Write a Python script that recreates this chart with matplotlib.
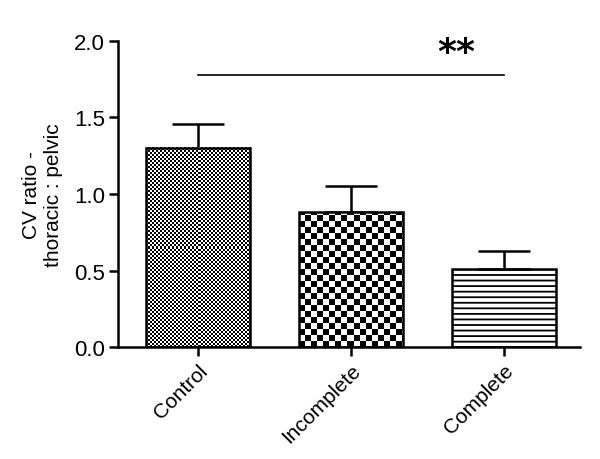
import numpy as np
import matplotlib
matplotlib.use("Agg")
import matplotlib.pyplot as plt

# data
groups = ["Control", "Incomplete", "Complete"]
means = [1.30, 0.88, 0.51]
sem_up = [0.16, 0.17, 0.12]
y_ticks = [0.0, 0.5, 1.0, 1.5, 2.0]
sig_label = "**"

plt.rcParams['font.family'] = ['Liberation Sans', 'DejaVu Sans']
plt.rcParams['hatch.linewidth'] = 1.3

fig = plt.figure(figsize=(6, 4.6), dpi=100)
ax = fig.add_axes([0.197, 0.243, 0.77, 0.666])

x = np.arange(len(groups))
bars = ax.bar(x, means, width=0.68, color="none", edgecolor="black",
              linewidth=1.8, zorder=3)
ax.errorbar(x, means, yerr=[np.zeros(len(means)), sem_up], fmt="none",
            ecolor="black", elinewidth=1.8, capsize=19, capthick=1.8, zorder=2)

ax.set_xlim(-0.52, 2.5)
ax.set_ylim(0, 2.0)
ax.set_yticks(y_ticks)
ax.set_yticklabels([f"{v:.1f}" for v in y_ticks], fontsize=16)
ax.set_xticks(x)
ax.set_xticklabels(groups, rotation=45, ha="right", rotation_mode="anchor", fontsize=15)
ax.set_ylabel("CV ratio -\nthoracic : pelvic", fontsize=15, labelpad=8)

for side in ["top", "right"]:
    ax.spines[side].set_visible(False)
for side in ["left", "bottom"]:
    ax.spines[side].set_linewidth(1.8)
ax.tick_params(direction="out", length=6.5, width=1.8, pad=3)

# fill patterns: fine check, coarse check, horizontal lines
fig.canvas.draw()
cell_px = [2, 6, None]
for bar, cell in zip(bars, cell_px):
    if cell is None:
        bar.set_hatch("---")
        continue
    bb = bar.get_window_extent()
    w, h = int(round(bb.width)), int(round(bb.height))
    jj, ii = np.meshgrid(np.arange(w), np.arange(h))
    board = ((ii // cell + jj // cell) % 2).astype(float)
    x0, y0 = bar.get_x(), bar.get_y()
    ax.imshow(board, cmap="gray", vmin=0, vmax=1, interpolation="nearest",
              extent=[x0, x0 + bar.get_width(), y0, y0 + bar.get_height()],
              origin="lower", aspect="auto", zorder=2.5)
ax.set_xlim(-0.52, 2.5)
ax.set_ylim(0, 2.0)

# significance bar
ax.plot([0, 2], [1.78, 1.78], color="black", linewidth=1.2, clip_on=False)
ax.text(1.69, 1.93, sig_label, ha="center", va="center", fontsize=26,
        fontweight="bold", family="DejaVu Sans")

fig.savefig("out.png", dpi=100)
